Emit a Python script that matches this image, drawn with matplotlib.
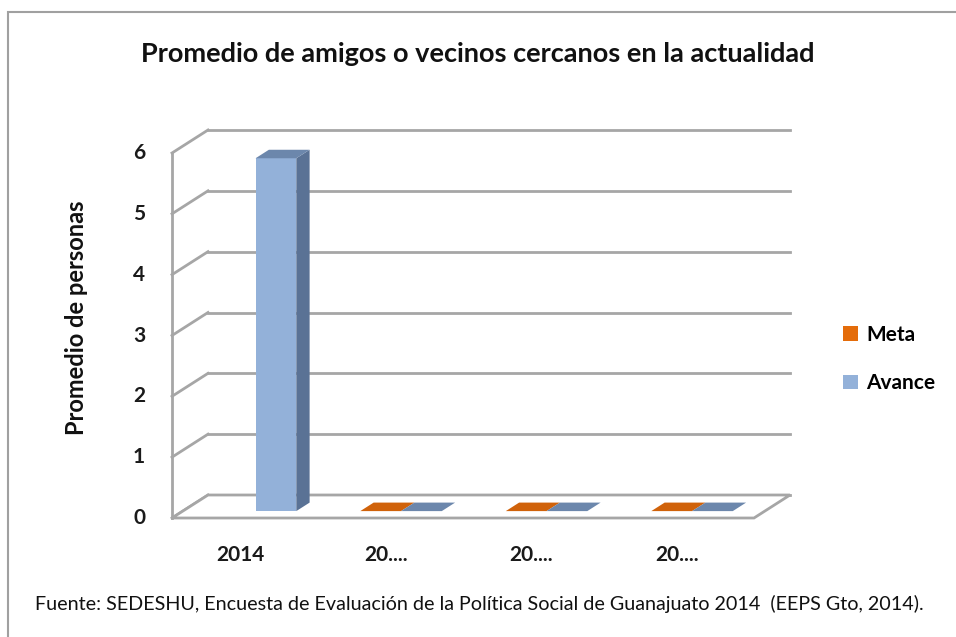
import matplotlib
matplotlib.use("Agg")
import matplotlib.pyplot as plt
from matplotlib.patches import Polygon, Rectangle, Patch
import numpy as np

# chart data
categories = ["2014", "20....", "20....", "20...."]
meta = [np.nan, 0, 0, 0]
avance = [5.8, 0, 0, 0]
y_ticks = [0, 1, 2, 3, 4, 5, 6]

title = "Promedio de amigos o vecinos cercanos en la actualidad"
y_label = "Promedio de personas"
source = "Fuente: SEDESHU, Encuesta de Evaluación de la Política Social de Guanajuato 2014  (EEPS Gto, 2014)."

FONT = ["Lato", "DejaVu Sans"]
GRID = "#A6A6A6"
TXT = "#1a1a1a"

fig = plt.figure(figsize=(9.56, 6.37), dpi=100)
W, H = 956, 637
ax = fig.add_axes([208 / W, (H - 495) / H, 582 / W, 365 / H])
ax.set_xlim(-0.5, 3.5)
ax.set_ylim(0, 6)
ax.axis("off")

# depth offset (pixels) from back wall to front plane, converted to data units
o = ax.transData.transform((0, 0))
px = ax.transData.transform((1, 1)) - o
DX, DY = -36 / px[0], -23 / px[1]


def p(x, v, f):
    return (x + f * DX, v + f * DY)


def poly(pts, fc, ec="none", lw=0, z=2):
    ax.add_patch(Polygon(pts, closed=True, facecolor=fc, edgecolor=ec,
                         linewidth=lw, zorder=z, clip_on=False))


# back wall gridlines and left wall
for v in y_ticks:
    ax.plot([-0.5, 3.5], [v, v], color=GRID, lw=2, zorder=1, clip_on=False)
    a, b = p(-0.5, v, 0), p(-0.5, v, 1)
    ax.plot([a[0], b[0]], [a[1], b[1]], color=GRID, lw=2, zorder=1, clip_on=False)
    ax.annotate(str(v), xy=b, xytext=(-33, 0), textcoords="offset pixels",
                ha="center", va="center", fontsize=15, fontweight="bold",
                family=FONT, color=TXT, annotation_clip=False)
a, b = p(-0.5, 0, 1), p(-0.5, 6, 1)
ax.plot([a[0], b[0]], [a[1], b[1]], color=GRID, lw=2, zorder=1, clip_on=False)

# floor
poly([p(-0.5, 0, 0), p(3.5, 0, 0), p(3.5, 0, 1), p(-0.5, 0, 1)],
     "white", GRID, 2, z=1.5)

# bars
bw = 0.28
f0, f1 = 0.33, 0.7


def bar3d(x0, h, front, side, top):
    x1 = x0 + bw
    if h > 0:
        poly([p(x0, 0, f1), p(x1, 0, f1), p(x1, h, f1), p(x0, h, f1)], front, z=3)
        poly([p(x1, 0, f1), p(x1, 0, f0), p(x1, h, f0), p(x1, h, f1)], side, z=3)
    poly([p(x0, h, f1), p(x1, h, f1), p(x1, h, f0), p(x0, h, f0)], top, z=3)


for i, (m, a_) in enumerate(zip(meta, avance)):
    if not np.isnan(m):
        bar3d(i - bw, m, "#E46C0A", "#A84E06", "#D0620A")
    if not np.isnan(a_):
        bar3d(i, a_, "#93B1D9", "#5A7295", "#6C87AC")

# category labels on front plane
for i, c in enumerate(categories):
    xy = p(i - 0.03, 0, 1)
    ax.annotate(c, xy=xy, xytext=(0, -37), textcoords="offset pixels",
                ha="center", va="center", fontsize=15, fontweight="bold",
                family=FONT, color=TXT, annotation_clip=False)

fig.text(478 / W, 1 - 62 / H, title, ha="center", va="baseline",
         fontsize=19.5, fontweight="bold", family=FONT, color="#111111")
fig.text(77 / W, 1 - 318 / H, y_label, rotation=90, ha="center", va="center",
         fontsize=17, fontweight="bold", family=FONT, color="#111111")
fig.text(479 / W, 1 - 610 / H, source, ha="center", va="baseline",
         fontsize=14.2, family=FONT, color="#111111")

handles = [Patch(facecolor="#E46C0A", label="Meta"),
           Patch(facecolor="#93B1D9", label="Avance")]
fig.legend(handles=handles, loc="upper left", bbox_to_anchor=(843 / W, 1 - 325 / H),
           frameon=False, borderpad=0, borderaxespad=0,
           handlelength=0.7, handleheight=0.7, handletextpad=0.4,
           labelspacing=1.35, prop={"family": FONT, "size": 15, "weight": "bold"})

# outer frame (only top and left edges fall inside the picture)
fig.patches.append(Rectangle((8 / W, -0.1), 1.2, 1.1 - 12 / H, transform=fig.transFigure,
                             fill=False, edgecolor="#A0A0A0", lw=1.5))

fig.savefig("out.png", dpi=100)
